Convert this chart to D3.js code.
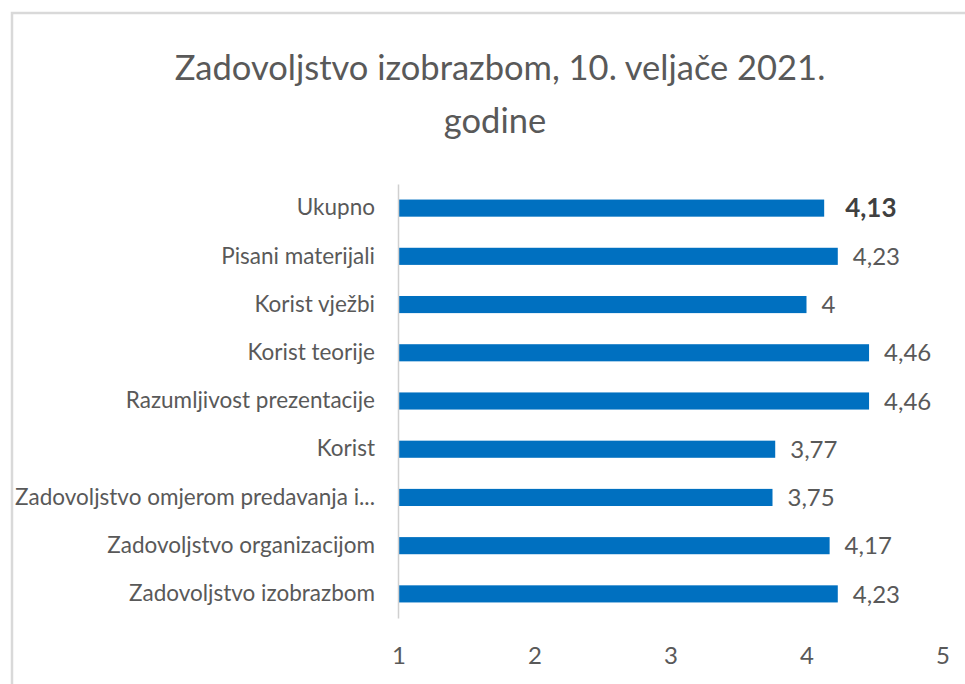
<html>
<head>
<meta charset="utf-8">
<script src="https://d3js.org/d3.v7.min.js"></script>
<style>
  body { margin: 0; background: #fff; }
  text { font-family: Lato, "Open Sans", sans-serif; fill: #595959; }
</style>
</head>
<body>
<div id="chart"></div>
<script>
var width = 965, height = 684;

// data
var categories = ["Ukupno", "Pisani materijali", "Korist vježbi", "Korist teorije",
    "Razumljivost prezentacije", "Korist", "Zadovoljstvo omjerom predavanja i...",
    "Zadovoljstvo organizacijom", "Zadovoljstvo izobrazbom"];
var values = [4.13, 4.23, 4, 4.46, 4.46, 3.77, 3.75, 4.17, 4.23];
var boldLabels = ["Ukupno"];
var xTicks = [1, 2, 3, 4, 5];
var titleLines = ["Zadovoljstvo izobrazbom, 10. veljače 2021.", "godine"];

var data = categories.map((c, i) => ({ cat: c, val: values[i] }));
var fmt = d => String(d).replace(".", ",");

var svg = d3.select("#chart").append("svg")
    .attr("width", width)
    .attr("height", height);

// chart frame
svg.append("rect")
    .attr("x", 12).attr("y", 13)
    .attr("width", width + 20).attr("height", height + 20)
    .attr("fill", "none")
    .attr("stroke", "#d9d9d9")
    .attr("stroke-width", 2.5);

// title
svg.append("g").selectAll("text")
    .data(titleLines)
    .enter().append("text")
    .attr("x", (d, i) => i == 0 ? 500 : 495)
    .attr("y", (d, i) => 80 + i * 53)
    .attr("text-anchor", "middle")
    .style("font-size", "34.5px")
    .text(d => d);

var x = d3.scaleLinear().domain([1, 5]).range([398.5, 942.5]);
var y = d3.scaleBand().domain(categories).range([184, 618])
    .paddingInner(0.645).paddingOuter(0.3225);

// bars
svg.append("g").selectAll("rect")
    .data(data)
    .enter().append("rect")
    .attr("x", x(1))
    .attr("y", d => y(d.cat))
    .attr("width", d => x(d.val) - x(1))
    .attr("height", y.bandwidth())
    .attr("fill", "#0070c0");

// left axis with category names
var yAxis = svg.append("g")
    .attr("transform", `translate(${x(1) - 0.5},0)`)
    .call(d3.axisLeft(y).tickSize(0).tickPadding(23));
yAxis.select(".domain").attr("stroke", "#d0d0d0").attr("stroke-width", 1.5);
yAxis.selectAll("text")
    .style("font-size", "22.5px")
    .style("font-family", "Lato, 'Open Sans', sans-serif")
    .attr("fill", "#595959");

// bottom axis, labels only
var xAxis = svg.append("g")
    .attr("transform", `translate(0,618)`)
    .call(d3.axisBottom(x).tickValues(xTicks).tickFormat(d3.format("d"))
        .tickSize(0).tickPadding(29));
xAxis.select(".domain").remove();
xAxis.selectAll("text")
    .style("font-size", "24px")
    .style("font-family", "Lato, 'Open Sans', sans-serif")
    .attr("fill", "#595959");

// value labels
svg.append("g").selectAll("text")
    .data(data)
    .enter().append("text")
    .attr("x", d => x(d.val) + (boldLabels.includes(d.cat) ? 21 : 15))
    .attr("y", d => y(d.cat) + y.bandwidth() / 2)
    .attr("dy", "0.36em")
    .style("font-size", d => boldLabels.includes(d.cat) ? "26px" : "24px")
    .style("font-weight", d => boldLabels.includes(d.cat) ? "bold" : "normal")
    .style("fill", d => boldLabels.includes(d.cat) ? "#404040" : "#595959")
    .text(d => fmt(d.val));
</script>
</body>
</html>
